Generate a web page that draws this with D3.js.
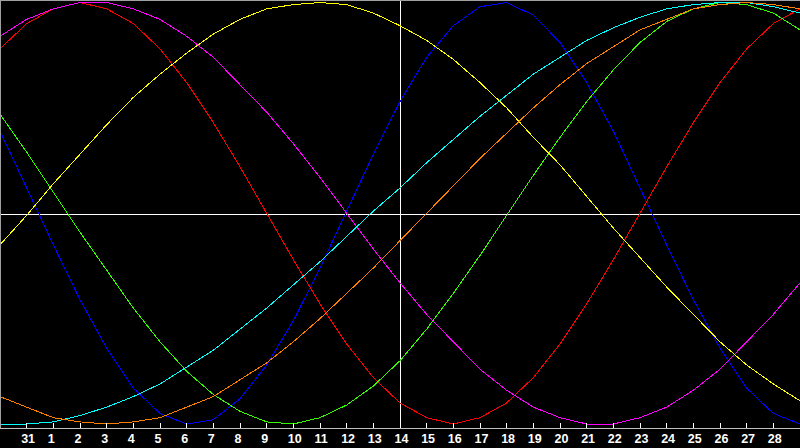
<!DOCTYPE html>
<html>
<head>
<meta charset="utf-8">
<script src="https://cdn.jsdelivr.net/npm/d3@7"></script>
<style>
  html, body { margin: 0; padding: 0; background: #000; overflow: hidden; }
  svg { display: block; }
  .curva { fill: none; stroke-width: 1; shape-rendering: crispEdges; }
  .etiqueta { fill: #fff; font-family: "Liberation Sans", Arial, sans-serif; font-weight: bold; font-size: 12.5px; }
</style>
</head>
<body>
<div id="grafica"></div>
<script>
// days shown, from index -1 (left edge) to 29 (right edge)
const dias = d3.range(-1, 30)
const etiquetas = ["31", "1", "2", "3", "4", "5", "6", "7", "8", "9", "10", "11", "12", "13", "14",
  "15", "16", "17", "18", "19", "20", "21", "22", "23", "24", "25", "26", "27", "28"]
const hoy = 14

// values, one per day (-1 .. 29)
const azul = [0.39, 0.12, -0.15, -0.41, -0.64, -0.83, -0.95, -1.00, -0.98, -0.88, -0.72, -0.51, -0.26,
  0.01, 0.28, 0.53, 0.74, 0.89, 0.98, 1.00, 0.94, 0.81, 0.62, 0.39, 0.12, -0.15, -0.41, -0.64, -0.83, -0.95, -1.00]
const rojo = [0.78, 0.90, 0.97, 1.00, 0.97, 0.90, 0.78, 0.62, 0.43, 0.22, 0.00, -0.22, -0.43, -0.62,
  -0.78, -0.90, -0.97, -1.00, -0.97, -0.90, -0.78, -0.62, -0.43, -0.22, 0.00, 0.22, 0.43, 0.62, 0.78, 0.90, 0.97]
const verde = [0.47, 0.29, 0.10, -0.09, -0.27, -0.45, -0.61, -0.75, -0.86, -0.94, -0.99, -1.00, -0.97,
  -0.91, -0.82, -0.70, -0.55, -0.38, -0.20, -0.01, 0.18, 0.36, 0.53, 0.68, 0.81, 0.91, 0.97, 1.00, 0.99, 0.95, 0.87]
const magenta = [0.84, 0.92, 0.97, 1.00, 1.00, 0.97, 0.92, 0.84, 0.74, 0.61, 0.48, 0.33, 0.17, 0.00,
  -0.17, -0.33, -0.48, -0.61, -0.74, -0.84, -0.92, -0.97, -1.00, -1.00, -0.97, -0.92, -0.84, -0.74, -0.61, -0.48, -0.33]
const amarillo = [-0.15, -0.01, 0.14, 0.28, 0.42, 0.55, 0.66, 0.76, 0.85, 0.92, 0.97, 0.99, 1.00, 0.99,
  0.95, 0.89, 0.82, 0.73, 0.62, 0.50, 0.36, 0.23, 0.08, -0.07, -0.21, -0.35, -0.48, -0.61, -0.72, -0.81, -0.89]
const cian = [-1.00, -1.00, -0.99, -0.96, -0.92, -0.87, -0.81, -0.73, -0.65, -0.55, -0.45, -0.34, -0.23,
  -0.11, 0.01, 0.12, 0.24, 0.35, 0.46, 0.56, 0.66, 0.74, 0.82, 0.88, 0.93, 0.97, 0.99, 1.00, 1.00, 0.98, 0.95]
const naranja = [-0.87, -0.92, -0.97, -0.99, -1.00, -0.99, -0.97, -0.92, -0.87, -0.79, -0.71, -0.61, -0.50,
  -0.38, -0.26, -0.13, 0.00, 0.13, 0.26, 0.38, 0.50, 0.61, 0.71, 0.79, 0.87, 0.92, 0.97, 0.99, 1.00, 0.99, 0.97]

const series = [
  { nombre: "azul", valores: azul, color: "#0000ff" },
  { nombre: "rojo", valores: rojo, color: "#ff0000" },
  { nombre: "verde", valores: verde, color: "#33ff00" },
  { nombre: "magenta", valores: magenta, color: "#ff00ff" },
  { nombre: "amarillo", valores: amarillo, color: "#ffff00" },
  { nombre: "cian", valores: cian, color: "#00ffff" },
  { nombre: "naranja", valores: naranja, color: "#ff8000" }
]

const anchoTotal = 800
const altoTotal = 448
const altoGrafica = 428

const svg = d3.select("#grafica")
  .append("svg")
  .attr("width", anchoTotal)
  .attr("height", altoTotal)

svg.append("rect")
  .attr("width", anchoTotal)
  .attr("height", altoTotal)
  .attr("fill", "#000")

const x = d3.scaleLinear().domain([-1, 29]).range([0, anchoTotal])
const y = d3.scaleLinear().domain([-1, 1]).range([424, 2.5])

svg.append("clipPath").attr("id", "recorte")
  .append("rect")
  .attr("x", 0).attr("y", 0)
  .attr("width", anchoTotal).attr("height", altoGrafica)

// reference lines: zero and today
const yCero = Math.ceil(y(0)) + 0.5
svg.append("line")
  .attr("x1", 0).attr("x2", anchoTotal)
  .attr("y1", yCero).attr("y2", yCero)
  .attr("stroke", "#fff")
  .attr("shape-rendering", "crispEdges")

const xHoy = Math.floor(x(hoy)) + 0.5
svg.append("line")
  .attr("x1", xHoy).attr("x2", xHoy)
  .attr("y1", 0).attr("y2", altoGrafica)
  .attr("stroke", "#fff")
  .attr("shape-rendering", "crispEdges")

const linea = d3.line()
  .x((d, i) => x(dias[i]))
  .y((d) => y(d))

svg.append("g")
  .attr("clip-path", "url(#recorte)")
  .selectAll("path")
  .data(series)
  .join("path")
  .attr("class", "curva")
  .attr("stroke", (d) => d.color)
  .attr("d", (d) => linea(d.valores))

// panel edge (top and left)
svg.append("path")
  .attr("d", `M0.5,${altoGrafica}V0.5H${anchoTotal}`)
  .attr("fill", "none")
  .attr("stroke", "#a0a0a0")
  .attr("shape-rendering", "crispEdges")

// bottom axis
const eje = svg.append("g")
eje.append("line")
  .attr("x1", 0).attr("x2", anchoTotal)
  .attr("y1", altoGrafica + 0.5).attr("y2", altoGrafica + 0.5)
  .attr("stroke", "#c0c0c0")
  .attr("shape-rendering", "crispEdges")

const marcas = etiquetas.map((t, i) => ({ dia: i, texto: t }))

eje.selectAll(".marca")
  .data(marcas)
  .join("line")
  .attr("class", "marca")
  .attr("x1", (d) => Math.floor(x(d.dia)) + 0.5)
  .attr("x2", (d) => Math.floor(x(d.dia)) + 0.5)
  .attr("y1", altoGrafica - 5)
  .attr("y2", altoGrafica)
  .attr("stroke", "#fff")
  .attr("shape-rendering", "crispEdges")

eje.selectAll(".etiqueta")
  .data(marcas)
  .join("text")
  .attr("class", "etiqueta")
  .attr("x", (d) => x(d.dia) - 5.5)
  .attr("y", 443)
  .text((d) => d.texto)
</script>
</body>
</html>
